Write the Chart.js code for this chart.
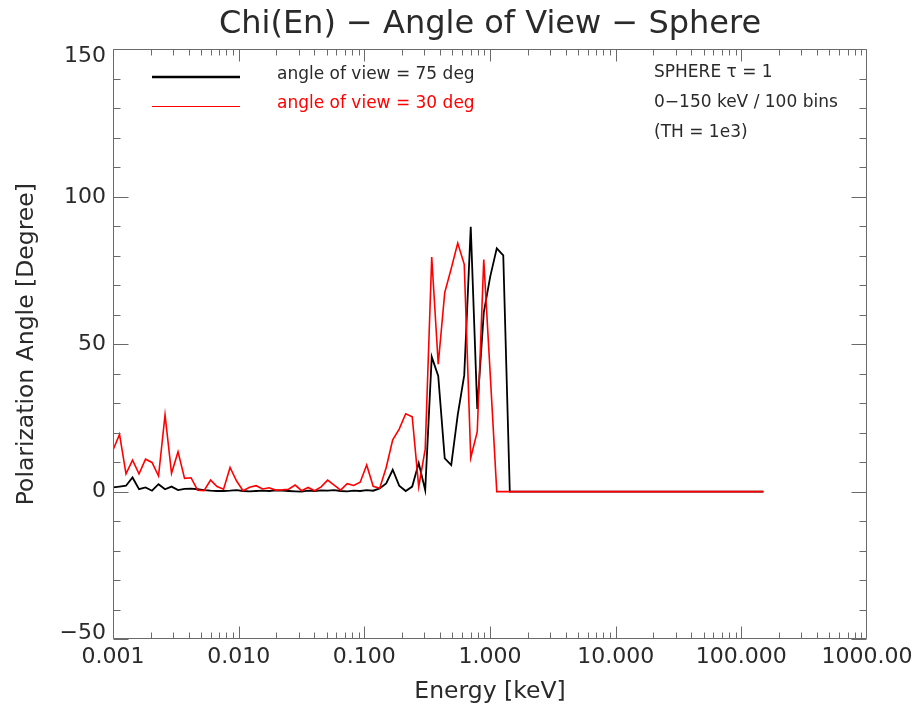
<!DOCTYPE html>
<html>
<head>
<meta charset="utf-8">
<title>Chi(En) − Angle of View − Sphere</title>
<script src="https://cdn.jsdelivr.net/npm/chart.js@4/dist/chart.umd.min.js"></script>
<style>
  html, body { margin: 0; padding: 0; background: #ffffff; }
  #wrap { width: 912px; height: 710px; overflow: hidden; }
</style>
</head>
<body>
<div id="wrap"><canvas id="chart" width="912" height="710"></canvas></div>
<script>
// Energy bins (keV), log-spaced from 0.001 to 150 keV
const energyKeV = [
  0.001, 0.001127, 0.001269, 0.001430, 0.001611, 0.001815, 0.002044, 0.002303, 0.002595, 0.002923,
  0.003293, 0.003710, 0.004179, 0.004708, 0.005304, 0.005976, 0.006732, 0.007584, 0.008544, 0.009626,
  0.01084, 0.01222, 0.01376, 0.01551, 0.01747, 0.01968, 0.02217, 0.02498, 0.02814, 0.03170,
  0.03571, 0.04023, 0.04532, 0.05106, 0.05752, 0.06481, 0.07301, 0.08225, 0.09266, 0.1044,
  0.1176, 0.1325, 0.1493, 0.1682, 0.1894, 0.2134, 0.2404, 0.2709, 0.3051, 0.3438,
  0.3873, 0.4363, 0.4915, 0.5537, 0.6238, 0.7028, 0.7918, 0.8920, 1.005, 1.132,
  1.275, 1.437, 1.619, 1.824, 2.054, 2.315, 2.607, 2.937, 3.309, 3.728,
  4.200, 4.732, 5.331, 6.005, 6.765, 7.622, 8.586, 9.673, 10.90, 12.28,
  13.83, 15.58, 17.55, 19.78, 22.28, 25.10, 28.28, 31.86, 35.89, 40.43,
  45.55, 51.31, 57.81, 65.12, 73.37, 82.65, 93.12, 104.9, 118.2, 133.1,
  150.0
];

// Polarization angle (degree), angle of view = 75 deg
const chiView75 = [
  1.4, 1.7, 2.0, 4.8, 0.8, 1.4, 0.3, 2.5, 0.8, 1.7,
  0.5, 0.9, 1.0, 0.8, 0.5, 0.3, 0.2, 0.2, 0.3, 0.5,
  0.2, 0.1, 0.2, 0.3, 0.2, 0.4, 0.3, 0.2, 0.1, 0.0,
  0.3, 0.2, 0.4, 0.3, 0.5, 0.2, 0.1, 0.3, 0.2, 0.5,
  0.3, 1.1, 2.8, 7.4, 2.0, 0.2, 1.7, 9.7, 0.5, 45.7,
  39.2, 11.3, 9.0, 26.0, 39.5, 89.8, 28.0, 60.7, 73.0, 82.5,
  80.1, 0, 0, 0, 0, 0, 0, 0, 0, 0,
  0, 0, 0, 0, 0, 0, 0, 0, 0, 0,
  0, 0, 0, 0, 0, 0, 0, 0, 0, 0,
  0, 0, 0, 0, 0, 0, 0, 0, 0, 0,
  0
];

// Polarization angle (degree), angle of view = 30 deg
const chiView30 = [
  14.1, 19.4, 6.0, 10.7, 6.0, 11.0, 9.9, 5.3, 26.0, 6.2,
  13.5, 4.5, 4.7, 0.5, 0.3, 3.9, 1.7, 0.8, 8.2, 3.6,
  0.3, 1.5, 2.0, 0.9, 1.3, 0.5, 0.6, 0.8, 2.2, 0.3,
  1.4, 0.3, 1.6, 3.9, 2.2, 0.5, 2.7, 2.1, 3.2, 9.0,
  1.8, 1.1, 8.2, 17.6, 21.2, 26.4, 25.4, 1.6, 14.4, 79.6,
  43.2, 67.5, 75.7, 84.3, 77.1, 11.5, 20.3, 78.7, 39.5, 0,
  0, 0, 0, 0, 0, 0, 0, 0, 0, 0,
  0, 0, 0, 0, 0, 0, 0, 0, 0, 0,
  0, 0, 0, 0, 0, 0, 0, 0, 0, 0,
  0, 0, 0, 0, 0, 0, 0, 0, 0, 0,
  0
];

const xTickValues = [0.001, 0.01, 0.1, 1, 10, 100, 1000];
const xTickLabels = ['0.001', '0.010', '0.100', '1.000', '10.000', '100.000', '1000.00'];
const yTickValues = [-50, 0, 50, 100, 150];
const yTickLabels = ['\u221250', '0', '50', '100', '150'];
const seriesNames = ['angle of view = 75 deg', 'angle of view = 30 deg'];
const noteLines = ['SPHERE \u03c4 = 1', '0\u2212150 keV / 100 bins', '(TH = 1e3)'];

const FONT = "'DejaVu Sans', 'Liberation Sans', sans-serif";
const INK = '#2a2a2a';
const AXIS = '#6a6a6a';

// Boxed frame with inward major/minor ticks on all four sides,
// plus the value labels of the vertical axis (end labels kept inside the frame height)
const frameTicks = {
  id: 'frameTicks',
  afterDatasetsDraw(chart) {
    const { ctx, chartArea: a, scales: { x, y } } = chart;
    ctx.save();
    ctx.strokeStyle = AXIS;
    ctx.lineWidth = 1;
    ctx.beginPath();
    const L = Math.round(a.left) + 0.5, R = Math.round(a.right) - 0.5;
    const T = Math.round(a.top) + 0.5, B = Math.round(a.bottom) - 0.5;
    ctx.moveTo(L, T); ctx.lineTo(R, T); ctx.lineTo(R, B); ctx.lineTo(L, B); ctx.closePath();
    for (let v = y.min; v <= y.max; v += 10) {
      const py = Math.round(y.getPixelForValue(v)) + 0.5;
      const len = (v % 50 === 0) ? 15 : 7;
      ctx.moveTo(L, py); ctx.lineTo(L + len, py);
      ctx.moveTo(R, py); ctx.lineTo(R - len, py);
    }
    for (let d = -3; d <= 2; d++) {
      for (let m = 1; m <= 9; m++) {
        const v = m * Math.pow(10, d);
        const px = Math.round(x.getPixelForValue(v)) + 0.5;
        const len = (m === 1) ? 12 : 6;
        ctx.moveTo(px, B); ctx.lineTo(px, B - len);
        ctx.moveTo(px, T); ctx.lineTo(px, T + len);
      }
    }
    ctx.stroke();

    ctx.fillStyle = INK;
    ctx.font = '22px ' + FONT;
    ctx.textAlign = 'right';
    ctx.textBaseline = 'middle';
    yTickValues.forEach((v, i) => {
      let py = y.getPixelForValue(v);
      if (v === y.max) py += 7;
      if (v === y.min) py -= 6;
      ctx.fillText(yTickLabels[i], a.left - 7, py);
    });
    ctx.restore();
  }
};

// Legend samples and run notes inside the plot frame
const legendNotes = {
  id: 'legendNotes',
  afterDraw(chart) {
    const { ctx } = chart;
    const ds = chart.data.datasets;
    ctx.save();
    ctx.font = '17px ' + FONT;
    ctx.textBaseline = 'middle';
    ctx.textAlign = 'left';
    const rows = [{ y: 77, ty: 75, w: 2.4 }, { y: 106.5, ty: 104, w: 1.2 }];
    rows.forEach((r, i) => {
      ctx.strokeStyle = ds[i].borderColor;
      ctx.lineWidth = r.w;
      ctx.beginPath();
      ctx.moveTo(152, r.y); ctx.lineTo(240, r.y);
      ctx.stroke();
      ctx.fillStyle = i === 0 ? INK : ds[i].borderColor;
      ctx.fillText(seriesNames[i], 277, r.ty);
    });
    ctx.fillStyle = INK;
    noteLines.forEach((t, i) => ctx.fillText(t, 654, 73 + i * 30));
    ctx.restore();
  }
};

new Chart(document.getElementById('chart'), {
  type: 'line',
  data: {
    datasets: [
      {
        label: seriesNames[0],
        data: energyKeV.map((e, i) => ({ x: e, y: chiView75[i] })),
        borderColor: '#000000',
        borderWidth: 1.8,
        pointRadius: 0,
        tension: 0,
        order: 2
      },
      {
        label: seriesNames[1],
        data: energyKeV.map((e, i) => ({ x: e, y: chiView30[i] })),
        borderColor: '#ff0000',
        borderWidth: 1.6,
        pointRadius: 0,
        tension: 0,
        order: 1
      }
    ]
  },
  options: {
    responsive: false,
    animation: false,
    devicePixelRatio: 1,
    layout: { padding: { left: 0, right: 45, top: 0, bottom: 0 } },
    plugins: {
      legend: { display: false },
      tooltip: { enabled: false },
      title: {
        display: true,
        text: 'Chi(En) \u2212 Angle of View \u2212 Sphere',
        fullSize: false,
        color: INK,
        font: { family: FONT, size: 32, weight: 'normal', lineHeight: 1.2 },
        padding: { top: 5, bottom: 6 }
      }
    },
    scales: {
      x: {
        type: 'logarithmic',
        min: 0.001,
        max: 1000,
        grid: { display: false, drawTicks: false },
        border: { display: false },
        afterBuildTicks(scale) { scale.ticks = xTickValues.map(v => ({ value: v })); },
        afterFit(scale) {
          scale.height = 71;
          scale.paddingLeft = 0;
          scale.paddingRight = 0;
        },
        ticks: {
          autoSkip: false,
          maxRotation: 0,
          padding: 5,
          color: INK,
          font: { family: FONT, size: 22 },
          callback: (v, i) => xTickLabels[i]
        },
        title: {
          display: true,
          text: 'Energy [keV]',
          color: INK,
          font: { family: FONT, size: 23.5, lineHeight: 1.2 },
          padding: { top: 0, bottom: 4 }
        }
      },
      y: {
        type: 'linear',
        min: -50,
        max: 150,
        grid: { display: false, drawTicks: false },
        border: { display: false },
        afterBuildTicks(scale) { scale.ticks = yTickValues.map(v => ({ value: v })); },
        afterFit(scale) {
          scale.width = 113;
          scale.paddingTop = 0;
          scale.paddingBottom = 0;
        },
        ticks: { display: false },
        title: {
          display: true,
          text: 'Polarization Angle [Degree]',
          color: INK,
          font: { family: FONT, size: 23.5, lineHeight: 1.2 },
          padding: { top: 13, bottom: 0 }
        }
      }
    }
  },
  plugins: [frameTicks, legendNotes]
});
</script>
</body>
</html>
